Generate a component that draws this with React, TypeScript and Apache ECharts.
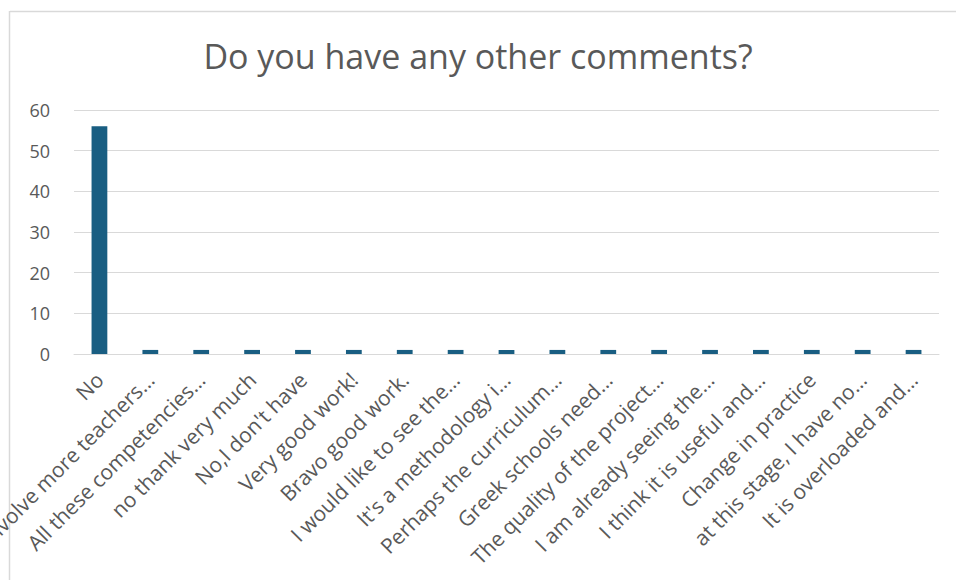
import React, { useEffect, useRef } from "react";
import * as echarts from "echarts";

// Responses to "Do you have any other comments?"
const categories: string[] = [
  "No",
  "Involve more teachers…",
  "All these competencies…",
  "no thank very much",
  "No,I don't have",
  "Very good work!",
  "Bravo good work.",
  "I would like to see the…",
  "It's a methodology i…",
  "Perhaps the curriculum…",
  "Greek schools need…",
  "The quality of the project…",
  "I am already seeing the…",
  "I think it is useful and…",
  "Change in practice",
  "at this stage, I have no…",
  "It is overloaded and…",
];

const counts: number[] = [56, 1, 1, 1, 1, 1, 1, 1, 1, 1, 1, 1, 1, 1, 1, 1, 1];

const yTicks = { min: 0, max: 60, interval: 10 };

const TITLE = "Do you have any other comments?";
const FONT = "'Open Sans', 'Noto Sans', Arial, sans-serif";
const TEXT_COLOR = "#595959";
const GRID_COLOR = "#d9d9d9";
const BAR_COLOR = "#195e82";

export default function App() {
  const ref = useRef<HTMLDivElement>(null);

  useEffect(() => {
    if (!ref.current) return;
    const chart = echarts.init(ref.current, undefined, { renderer: "svg" });
    chart.setOption({
      animation: false,
      backgroundColor: "#ffffff",
      textStyle: { fontFamily: FONT },
      title: {
        text: TITLE,
        left: "center",
        top: 34,
        textStyle: {
          fontFamily: FONT,
          fontSize: 34,
          fontWeight: "normal",
          color: TEXT_COLOR,
        },
      },
      graphic: [
        {
          type: "line",
          shape: { x1: 10, y1: 11.5, x2: 956, y2: 11.5 },
          style: { stroke: GRID_COLOR, lineWidth: 1.5 },
          silent: true,
        },
        {
          type: "line",
          shape: { x1: 9.5, y1: 11, x2: 9.5, y2: 580 },
          style: { stroke: GRID_COLOR, lineWidth: 1.5 },
          silent: true,
        },
      ],
      grid: {
        left: 74,
        right: 17,
        top: 110,
        bottom: 226,
        containLabel: false,
        outerBoundsMode: "none",
      },
      xAxis: {
        type: "category",
        data: categories,
        axisLine: { show: true, lineStyle: { color: GRID_COLOR, width: 1 } },
        axisTick: { show: false },
        axisLabel: {
          interval: 0,
          rotate: 45,
          margin: 22,
          fontSize: 21,
          color: TEXT_COLOR,
          fontFamily: FONT,
        },
      },
      yAxis: {
        type: "value",
        min: yTicks.min,
        max: yTicks.max,
        interval: yTicks.interval,
        axisLine: { show: false },
        axisTick: { show: false },
        splitLine: { lineStyle: { color: GRID_COLOR, width: 1 } },
        axisLabel: {
          margin: 24,
          fontSize: 18,
          color: TEXT_COLOR,
          fontFamily: FONT,
        },
      },
      series: [
        {
          type: "bar",
          data: counts,
          barWidth: "31%",
          itemStyle: { color: BAR_COLOR },
        },
      ],
    });
    return () => chart.dispose();
  }, []);

  return (
    <div
      ref={ref}
      style={{ position: "fixed", left: 0, top: 0, width: 956, height: 580 }}
    />
  );
}
